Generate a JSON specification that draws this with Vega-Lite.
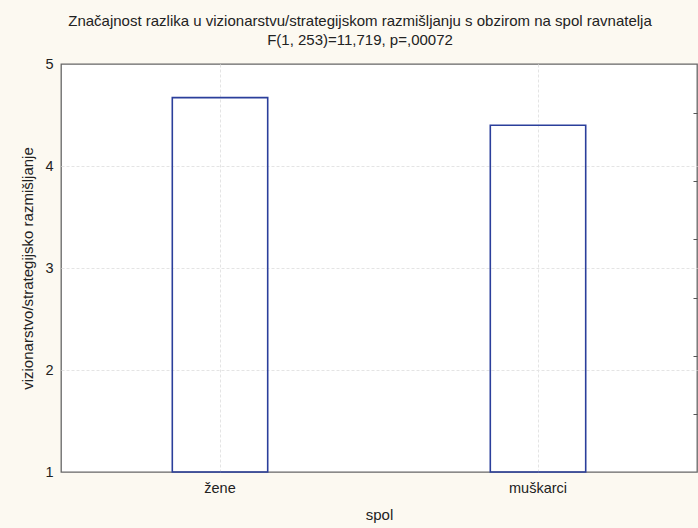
{
  "$schema": "https://vega.github.io/schema/vega-lite/v6.json",
  "width": 636,
  "height": 408,
  "autosize": "none",
  "padding": {"left": 61, "top": 64, "right": 1, "bottom": 56},
  "background": "#fcf9f1",
  "title": {
    "text": ["Značajnost razlika u vizionarstvu/strategijskom razmišljanju s obzirom na spol ravnatelja", "F(1, 253)=11,719, p=,00072"],
    "font": "Liberation Sans",
    "fontSize": 15,
    "fontWeight": "normal",
    "color": "#222222",
    "anchor": "middle",
    "dx": -19,
    "offset": 8,
    "lineHeight": 19
  },
  "config": {
    "view": {"fill": "white", "stroke": "#666666", "strokeWidth": 1.3},
    "font": "Liberation Sans"
  },
  "data": {"values": [
    {"spol": "žene", "vrijednost": 4.67},
    {"spol": "muškarci", "vrijednost": 4.40}
  ]},
  "layer": [
    {
      "mark": {"type": "bar", "fill": "transparent", "stroke": "#2b3f9b", "strokeWidth": 1.6, "width": {"band": 0.3}},
      "encoding": {
        "x": {
          "field": "spol", "type": "nominal", "sort": ["žene", "muškarci"],
          "scale": {"paddingInner": 0, "paddingOuter": 0},
          "axis": {
            "title": "spol", "titleFont": "Liberation Sans", "titleFontSize": 15, "titleFontWeight": "normal", "titleColor": "#222222", "titlePadding": 13,
            "labelAngle": 0, "labelFontSize": 14.5, "labelColor": "#222222", "labelPadding": 9,
            "ticks": false, "domain": false,
            "grid": true, "gridColor": "#e4e4e4", "gridDash": [3, 2], "gridWidth": 1
          }
        },
        "y": {
          "field": "vrijednost", "type": "quantitative",
          "scale": {"domain": [1, 5], "zero": false, "nice": false},
          "axis": {
            "title": "vizionarstvo/strategijsko razmišljanje", "titleFont": "Liberation Sans", "titleFontSize": 15, "titleFontWeight": "normal", "titleColor": "#222222", "titlePadding": 9,
            "values": [1, 2, 3, 4, 5], "labelFontSize": 14.5, "labelColor": "#222222", "labelPadding": 8,
            "ticks": false, "domain": false,
            "grid": true, "gridColor": "#e4e4e4", "gridDash": [3, 2], "gridWidth": 1,
            "gridOpacity": {"condition": {"test": "datum.value == 1 || datum.value == 5", "value": 0}, "value": 1}
          }
        },
        "y2": {"datum": 1}
      }
    },
    {
      "mark": {"type": "point", "opacity": 0},
      "encoding": {
        "x": {"field": "spol", "type": "nominal", "sort": ["žene", "muškarci"]},
        "y": {
          "field": "vrijednost", "type": "quantitative",
          "axis": {
            "orient": "right", "title": null, "labels": false, "grid": false, "domain": false,
            "values": [4.517, 3.853, 3.281, 2.709, 2.137, 1.566],
            "ticks": true, "tickSize": -4, "tickColor": "#555555", "tickWidth": 1
          }
        }
      }
    }
  ],
  "resolve": {"axis": {"y": "independent"}}
}
